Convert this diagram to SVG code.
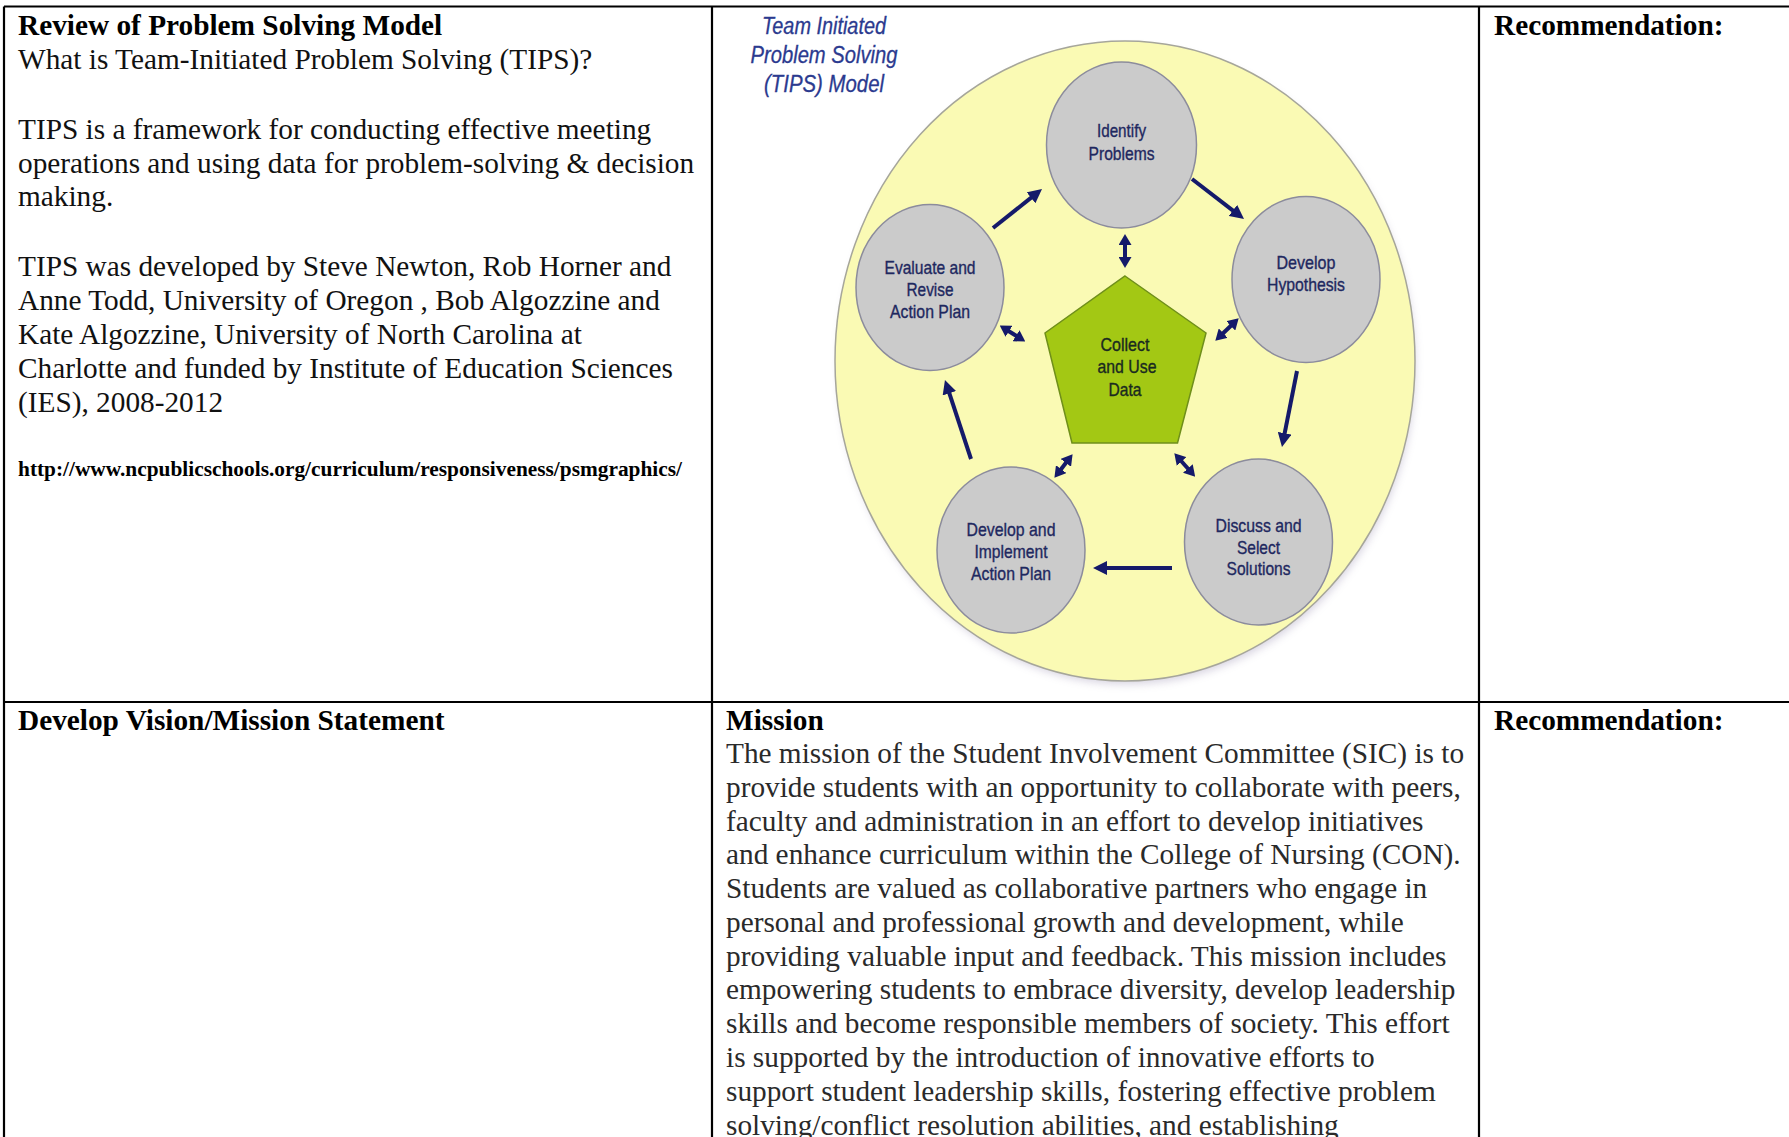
<svg xmlns="http://www.w3.org/2000/svg" width="1789" height="1137" viewBox="0 0 1789 1137">
<defs>
<style>
.t{font-family:"Liberation Serif","Times New Roman",serif;font-size:29.3px;fill:#111}
.b{font-weight:bold;fill:#000}
.m{fill:#2a2a2a}
.url{font-family:"Liberation Serif","Times New Roman",serif;font-size:20px;font-weight:bold;fill:#000}
.grid{stroke:#000;stroke-width:2.2;fill:none}
.node{fill:#cbcbcb;stroke:#8c8c9c;stroke-width:1.5}
.lbl{font-family:"Liberation Sans",Arial,sans-serif;font-size:18.5px;fill:#1e2860;stroke:#1e2860;stroke-width:0.35;text-anchor:middle}
.dl{fill:#1a2a20;stroke:#1a2a20}
.ttl{font-family:"Liberation Sans",Arial,sans-serif;font-size:23px;font-style:italic;fill:#2b3a8f;stroke:#2b3a8f;stroke-width:0.3;text-anchor:middle}
.arr{stroke:#151a6a;stroke-width:4;fill:none}
</style>
<marker id="ah" viewBox="0 0 14 14" refX="3" refY="7" markerWidth="14" markerHeight="14" markerUnits="userSpaceOnUse" orient="auto-start-reverse">
<path d="M0,0 L14,7 L0,14 Z" fill="#151a6a"/>
</marker>
<marker id="dh" viewBox="0 0 11 13" refX="2" refY="6.5" markerWidth="11" markerHeight="13" markerUnits="userSpaceOnUse" orient="auto-start-reverse">
<path d="M0,0 L11,6.5 L0,13 Z" fill="#151a6a"/>
</marker>
<filter id="sh" x="-10%" y="-10%" width="120%" height="120%"><feGaussianBlur stdDeviation="4"/></filter>
</defs>
<rect width="1789" height="1137" fill="#fff"/>

<g id="table">
<path class="grid" d="M4,6.5 H1789 M4,6.5 V1137 M712,6.5 V1137 M1479,6.5 V1137 M4,702 H1789"/>
</g>

<g id="cell-review">
<text class="t b" x="18" y="35">Review of Problem Solving Model</text>
<text class="t" x="18" y="69">What is Team-Initiated Problem Solving (TIPS)?</text>
<text class="t" x="18" y="139.3">TIPS is a framework for conducting effective meeting</text>
<text class="t" x="18" y="172.8">operations and using data for problem-solving &amp; decision</text>
<text class="t" x="18" y="206.3">making.</text>
<text class="t" x="18" y="276">TIPS was developed by Steve Newton, Rob Horner and</text>
<text class="t" x="18" y="310">Anne Todd, University of Oregon , Bob Algozzine and</text>
<text class="t" x="18" y="343.5">Kate Algozzine, University of North Carolina at</text>
<text class="t" x="18" y="377.5">Charlotte and funded by Institute of Education Sciences</text>
<text class="t" x="18" y="411.5">(IES), 2008-2012</text>
<text class="url" x="18" y="476" textLength="664" lengthAdjust="spacingAndGlyphs">http://www.ncpublicschools.org/curriculum/responsiveness/psmgraphics/</text>
</g>

<g id="tips-diagram">
<ellipse cx="1127" cy="366" rx="288" ry="318" fill="#8a7fa6" opacity="0.35" filter="url(#sh)"/>
<ellipse id="outer" cx="1125" cy="361" rx="290" ry="320" fill="#fafab4" stroke="#a6a69a" stroke-width="1.5"/>
<g id="title">
<text class="ttl" x="824" y="34" textLength="124" lengthAdjust="spacingAndGlyphs">Team Initiated</text>
<text class="ttl" x="824" y="63" textLength="147" lengthAdjust="spacingAndGlyphs">Problem Solving</text>
<text class="ttl" x="824" y="91.5" textLength="120" lengthAdjust="spacingAndGlyphs">(TIPS) Model</text>
</g>
<g id="identify">
<ellipse class="node" cx="1121.5" cy="145" rx="75" ry="83"/>
<text class="lbl" x="1121.5" y="137" textLength="49" lengthAdjust="spacingAndGlyphs">Identify</text>
<text class="lbl" x="1121.5" y="159.5" textLength="66" lengthAdjust="spacingAndGlyphs">Problems</text>
</g>
<g id="hypothesis">
<ellipse class="node" cx="1306" cy="279.5" rx="74" ry="83"/>
<text class="lbl" x="1306" y="269" textLength="59" lengthAdjust="spacingAndGlyphs">Develop</text>
<text class="lbl" x="1306" y="291" textLength="78" lengthAdjust="spacingAndGlyphs">Hypothesis</text>
</g>
<g id="discuss">
<ellipse class="node" cx="1258.5" cy="542" rx="74" ry="83"/>
<text class="lbl" x="1258.5" y="532" textLength="86" lengthAdjust="spacingAndGlyphs">Discuss and</text>
<text class="lbl" x="1258.5" y="553.5" textLength="43" lengthAdjust="spacingAndGlyphs">Select</text>
<text class="lbl" x="1258.5" y="575" textLength="64" lengthAdjust="spacingAndGlyphs">Solutions</text>
</g>
<g id="implement">
<ellipse class="node" cx="1011" cy="550" rx="74" ry="83"/>
<text class="lbl" x="1011" y="536" textLength="89" lengthAdjust="spacingAndGlyphs">Develop and</text>
<text class="lbl" x="1011" y="557.5" textLength="73" lengthAdjust="spacingAndGlyphs">Implement</text>
<text class="lbl" x="1011" y="580" textLength="80" lengthAdjust="spacingAndGlyphs">Action Plan</text>
</g>
<g id="evaluate">
<ellipse class="node" cx="930" cy="287.5" rx="74" ry="83"/>
<text class="lbl" x="930" y="274" textLength="91" lengthAdjust="spacingAndGlyphs">Evaluate and</text>
<text class="lbl" x="930" y="295.5" textLength="47" lengthAdjust="spacingAndGlyphs">Revise</text>
<text class="lbl" x="930" y="317.5" textLength="80" lengthAdjust="spacingAndGlyphs">Action Plan</text>
</g>
<g id="data">
<polygon points="1125,276 1206,333 1177.5,443 1072,443 1045,333" fill="#a3c814" stroke="#6f8f1a" stroke-width="1.5"/>
<text class="lbl dl" x="1125" y="350.5" textLength="49" lengthAdjust="spacingAndGlyphs">Collect</text>
<text class="lbl dl" x="1127" y="373" textLength="59" lengthAdjust="spacingAndGlyphs">and Use</text>
<text class="lbl dl" x="1125" y="395.5" textLength="33" lengthAdjust="spacingAndGlyphs">Data</text>
</g>
<g id="connectors">
<path class="arr" d="M993,228 L1033.4,195.9" marker-end="url(#ah)"/>
<path class="arr" d="M1192,179 L1235.3,212.3" marker-end="url(#ah)"/>
<path class="arr" d="M1297,371 L1284.1,436.2" marker-end="url(#ah)"/>
<path class="arr" d="M1172,568 L1104,568" marker-end="url(#ah)"/>
<path class="arr" d="M971,459 L948.4,390.4" marker-end="url(#ah)"/>
<path class="arr" d="M1125,243 L1125,259" marker-start="url(#dh)" marker-end="url(#dh)"/>
<path class="arr" d="M1232.2,324.5 L1221.8,334.5" marker-start="url(#dh)" marker-end="url(#dh)"/>
<path class="arr" d="M1180.3,460 L1189.2,470" marker-start="url(#dh)" marker-end="url(#dh)"/>
<path class="arr" d="M1067.1,461.3 L1059.9,470.7" marker-start="url(#dh)" marker-end="url(#dh)"/>
<path class="arr" d="M1007.3,330.2 L1017.7,336.8" marker-start="url(#dh)" marker-end="url(#dh)"/>
</g>
</g>

<g id="cell-rec1">
<text class="t b" x="1494" y="35">Recommendation:</text>
</g>

<g id="cell-vision">
<text class="t b" x="18" y="730">Develop Vision/Mission Statement</text>
</g>

<g id="cell-mission">
<text class="t b" x="726" y="730">Mission</text>
<text class="t m" x="726" y="763">The mission of the Student Involvement Committee (SIC) is to</text>
<text class="t m" x="726" y="796.7">provide students with an opportunity to collaborate with peers,</text>
<text class="t m" x="726" y="830.5">faculty and administration in an effort to develop initiatives</text>
<text class="t m" x="726" y="864.3">and enhance curriculum within the College of Nursing (CON).</text>
<text class="t m" x="726" y="898">Students are valued as collaborative partners who engage in</text>
<text class="t m" x="726" y="931.8">personal and professional growth and development, while</text>
<text class="t m" x="726" y="965.6">providing valuable input and feedback. This mission includes</text>
<text class="t m" x="726" y="999.4">empowering students to embrace diversity, develop leadership</text>
<text class="t m" x="726" y="1033.2">skills and become responsible members of society. This effort</text>
<text class="t m" x="726" y="1067">is supported by the introduction of innovative efforts to</text>
<text class="t m" x="726" y="1100.8">support student leadership skills, fostering effective problem</text>
<text class="t m" x="726" y="1134.6">solving/conflict resolution abilities, and establishing</text>
</g>

<g id="cell-rec2">
<text class="t b" x="1494" y="730">Recommendation:</text>
</g>
</svg>
